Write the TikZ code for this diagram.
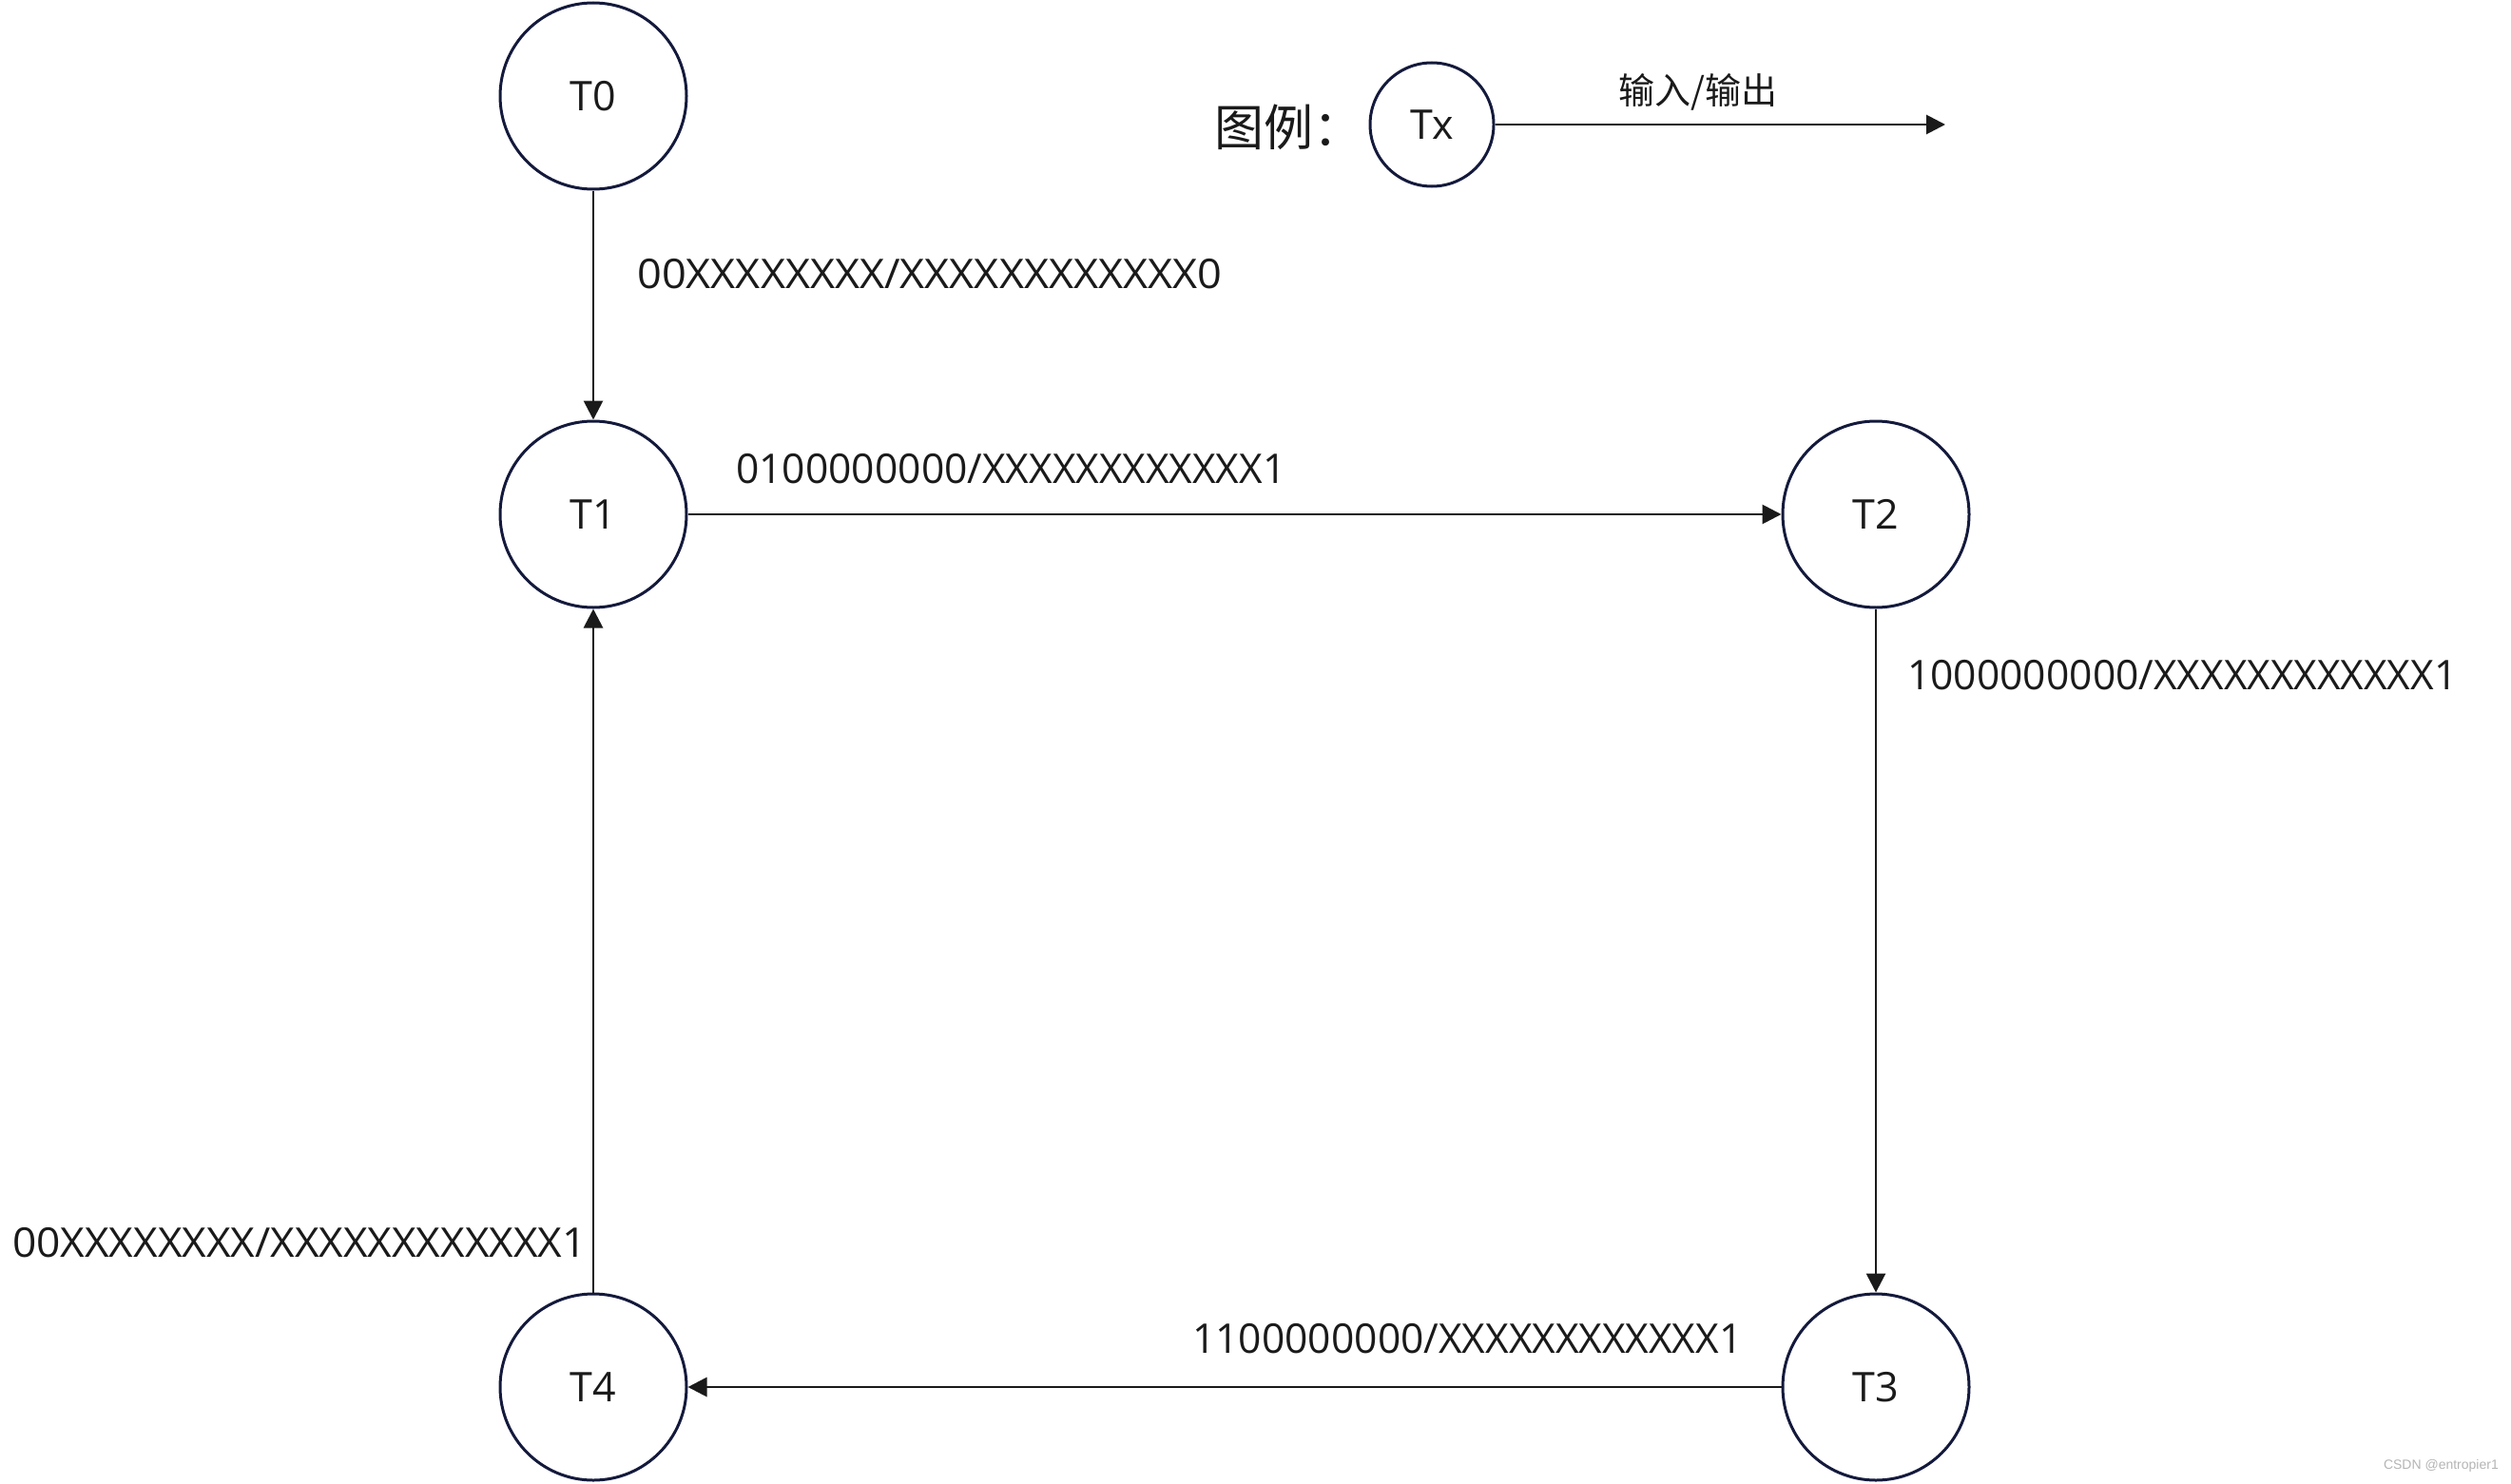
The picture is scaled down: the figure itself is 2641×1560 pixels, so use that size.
\documentclass[tikz,border=0pt]{standalone}
\usepackage{fontspec}
\setmainfont{Open Sans}
\newfontfamily\cjk{Noto Sans CJK SC}
\newfontfamily\wmfont{Liberation Sans}
\usetikzlibrary{arrows.meta}
\definecolor{navy}{HTML}{141A3C}
\definecolor{ink}{HTML}{1A1A1A}
\definecolor{wm}{HTML}{B4B4B4}
\tikzset{
  state/.style={circle, draw=navy, line width=3pt, minimum size=196pt, inner sep=0pt, text=ink,
    font=\fontsize{43}{50}\selectfont},
  legstate/.style={state, minimum size=130pt},
  conn/.style={draw=ink, line width=2.8pt, -{Triangle[length=20pt,width=20pt]}},
  lbl/.style={anchor=base west, inner sep=0pt, text=ink, font=\fontsize{43}{50}\selectfont},
}
\begin{document}
\begin{tikzpicture}[x=1pt,y=-1pt]
\useasboundingbox (0,0) rectangle (2641,1560);
% states
\node[state] (T0) at (624,101) {\raisebox{-2pt}{T0}};
\node[state] (T1) at (624,541) {\raisebox{-2pt}{T1}};
\node[state] (T2) at (1973,541) {\raisebox{-2pt}{T2}};
\node[state] (T3) at (1973,1459) {\raisebox{-2pt}{T3}};
\node[state] (T4) at (624,1459) {\raisebox{-2pt}{T4}};
% transitions
\draw[conn] (T0) -- (T1);
\draw[conn] (T1) -- (T2);
\draw[conn] (T2) -- (T3);
\draw[conn] (T3) -- (T4);
\draw[conn] (T4) -- (T1);
% labels
\node[lbl] (l01) at (670,303) {\scalebox{1.05}[1]{00XXXXXXXX/XXXXXXXXXXXX0}};
\node[lbl] (l12) at (774,508) {\scalebox{0.99}[1]{0100000000/XXXXXXXXXXXX1}};
\node[lbl] (l23) at (2006,725) {\scalebox{0.99}[1]{1000000000/XXXXXXXXXXXX1}};
\node[lbl] (l34) at (1254,1423) {\scalebox{0.99}[1]{1100000000/XXXXXXXXXXXX1}};
\node[lbl] (l41) at (13,1322) {\scalebox{1.03}[1]{00XXXXXXXX/XXXXXXXXXXXX1}};
% legend
\node[anchor=west, inner sep=0pt, text=ink, font=\cjk\fontsize{52}{60}\selectfont] (legtitle) at (1277,134) {图例：};
\node[legstate] (Tx) at (1506,131) {\raisebox{-2pt}{Tx}};
\coordinate (legend) at (2046,131);
\draw[conn] (Tx) -- (legend);
\node[inner sep=0pt, text=ink, font=\cjk\fontsize{38}{44}\selectfont] (legio) at (1786,97) {输入/输出};
% watermark
\node[anchor=east, inner sep=0pt, text=wm, font=\wmfont\fontsize{14}{16}\selectfont] (wmark) at (2628,1542) {CSDN @entropier1};
\end{tikzpicture}
\end{document}
